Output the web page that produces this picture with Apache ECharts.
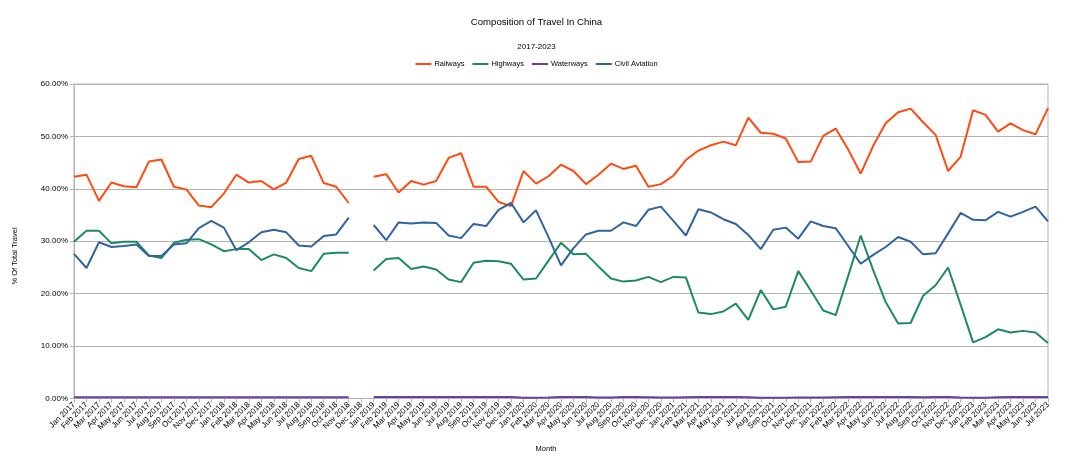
<!DOCTYPE html>
<html>
<head>
<meta charset="utf-8">
<script src="https://cdn.jsdelivr.net/npm/echarts@6/dist/echarts.min.js"></script>
<style>
html,body{margin:0;padding:0;background:#fff;}
#chart{width:1073px;height:466px;}
</style>
</head>
<body>
<div id="chart"></div>
<script>
const monthNames = ['Jan','Feb','Mar','Apr','May','Jun','Jul','Aug','Sep','Oct','Nov','Dec'];
const years = [2017, 2018, 2019, 2020, 2021, 2022, 2023];
const lastMonthOfLastYear = 7;
const categories = [];
years.forEach(function (y) {
  const n = (y === 2023) ? lastMonthOfLastYear : 12;
  for (let m = 0; m < n; m++) categories.push(monthNames[m] + ' ' + y);
});

const railways = [42.3,42.7,37.7,41.2,40.5,40.3,45.2,45.6,40.4,39.9,36.8,36.5,39.1,42.7,41.2,41.5,39.9,41.2,45.7,46.3,41.1,40.4,37.3,
  null,
  42.3,42.8,39.3,41.5,40.8,41.5,45.9,46.8,40.4,40.4,37.5,36.7,43.4,41.0,42.4,44.6,43.4,40.9,42.7,44.8,
  43.8,44.4,40.4,40.9,42.5,45.5,47.3,48.3,49.0,48.3,53.6,50.7,50.5,49.6,45.1,45.2,50.1,51.5,47.5,42.9,
  48.2,52.5,54.6,55.3,52.7,50.3,43.4,46.1,55.0,54.1,50.9,52.5,51.2,50.4,55.4];

const highways = [29.9,32.0,32.0,29.6,29.9,29.9,27.3,26.8,29.7,30.3,30.4,29.4,28.1,28.5,28.5,26.4,27.5,26.8,24.9,24.3,27.6,27.8,27.8,
  null,
  24.4,26.6,26.8,24.7,25.2,24.6,22.7,22.2,25.9,26.3,26.2,25.7,22.7,22.9,26.3,29.7,27.5,27.6,25.2,22.9,
  22.3,22.5,23.2,22.2,23.2,23.1,16.4,16.1,16.6,18.1,15.0,20.7,17.0,17.5,24.3,20.6,16.8,15.9,23.4,31.1,
  24.5,18.4,14.3,14.4,19.6,21.6,25.0,17.9,10.7,11.7,13.2,12.6,12.9,12.6,10.6];

const waterways = [0.25,0.25,0.25,0.25,0.25,0.25,0.25,0.25,0.25,0.25,0.25,0.25,0.25,0.25,0.25,0.25,0.25,0.25,0.25,0.25,0.25,0.25,0.25,
  null,
  0.3,0.3,0.3,0.3,0.3,0.3,0.3,0.3,0.3,0.3,0.3,0.3,0.15,0.15,0.2,0.3,0.3,0.3,0.2,0.2,
  0.3,0.3,0.25,0.2,0.2,0.25,0.3,0.3,0.3,0.3,0.25,0.15,0.15,0.15,0.2,0.2,0.2,0.25,0.3,0.3,
  0.3,0.3,0.3,0.3,0.25,0.3,0.3,0.2,0.15,0.15,0.25,0.3,0.3,0.3,0.3];

const civilAviation = [27.6,24.9,29.8,28.9,29.1,29.4,27.2,27.2,29.4,29.6,32.5,33.9,32.6,28.3,29.8,31.7,32.2,31.7,29.2,29.0,31.0,31.3,34.5,
  null,
  33.1,30.2,33.6,33.4,33.6,33.5,31.1,30.6,33.3,32.9,36.0,37.3,33.6,35.9,30.8,25.4,28.7,31.3,32.0,32.0,
  33.6,32.9,36.0,36.6,33.9,31.1,36.1,35.5,34.2,33.3,31.2,28.5,32.2,32.6,30.5,33.8,32.9,32.5,29.1,25.7,
  27.4,28.9,30.8,29.9,27.5,27.7,31.5,35.4,34.1,34.0,35.6,34.7,35.6,36.6,33.8];

const seriesNames = ['Railways', 'Highways', 'Waterways', 'Civil Aviation'];
const seriesData = [railways, highways, waterways, civilAviation];
const colors = ['#ff4a12', '#1e8a60', '#6a3fa0', '#3063a2'];

const FONT = '"Liberation Sans", Arial, sans-serif';
const chart = echarts.init(document.getElementById('chart'), null, {renderer: 'canvas'});

chart.setOption({
  animation: false,
  backgroundColor: '#ffffff',
  color: colors,
  textStyle: {fontFamily: FONT, color: '#000'},
  title: [
    {text: 'Composition of Travel In China', left: 'center', top: 12,
     textStyle: {fontSize: 9.6, fontWeight: 'normal', color: '#000', fontFamily: FONT}},
    {text: '2017-2023', left: 'center', top: 38,
     textStyle: {fontSize: 8, fontWeight: 'normal', color: '#000', fontFamily: FONT}}
  ],
  legend: {
    data: seriesNames,
    left: 'center',
    top: 55,
    icon: 'rect',
    itemWidth: 16,
    itemHeight: 2,
    itemGap: 8,
    textStyle: {fontSize: 7.5, color: '#000', fontFamily: FONT, padding: [0, 0, 0, -2]}
  },
  grid: {
    left: 74, right: 25, top: 84, bottom: 67.5,
    show: true, borderColor: '#b3b3b3', borderWidth: 1, backgroundColor: 'transparent'
  },
  xAxis: {
    type: 'category',
    data: categories,
    boundaryGap: false,
    axisLine: {lineStyle: {color: '#b3b3b3'}},
    axisTick: {show: true, interval: 0, length: 4, lineStyle: {color: '#b3b3b3'}},
    axisLabel: {interval: 0, rotate: 45, fontSize: 8, color: '#000', margin: 5, fontFamily: FONT},
    splitLine: {show: false}
  },
  yAxis: {
    type: 'value',
    min: 0, max: 60, interval: 10,
    axisLine: {show: true, lineStyle: {color: '#b3b3b3'}},
    axisTick: {show: true, length: 4, lineStyle: {color: '#b3b3b3'}},
    axisLabel: {fontSize: 8, color: '#000', margin: 6, fontFamily: FONT,
      formatter: function (v) { return v.toFixed(2) + '%'; }},
    splitLine: {lineStyle: {color: '#b3b3b3', width: 1}}
  },
  graphic: [
    {type: 'text', x: 546, y: 449,
     style: {text: 'Month', fontSize: 7.5, fill: '#000', fontFamily: FONT,
             align: 'center', verticalAlign: 'middle'}},
    {type: 'text', x: 15, y: 256, rotation: Math.PI / 2,
     style: {text: '% Of Total Travel', fontSize: 7.5, fill: '#000', fontFamily: FONT,
             align: 'center', verticalAlign: 'middle'}}
  ],
  series: seriesNames.map(function (name, i) {
    return {
      name: name,
      type: 'line',
      data: seriesData[i],
      symbol: 'none',
      connectNulls: false,
      lineStyle: {width: 2, color: colors[i]},
      itemStyle: {color: colors[i]}
    };
  })
});
</script>
</body>
</html>
